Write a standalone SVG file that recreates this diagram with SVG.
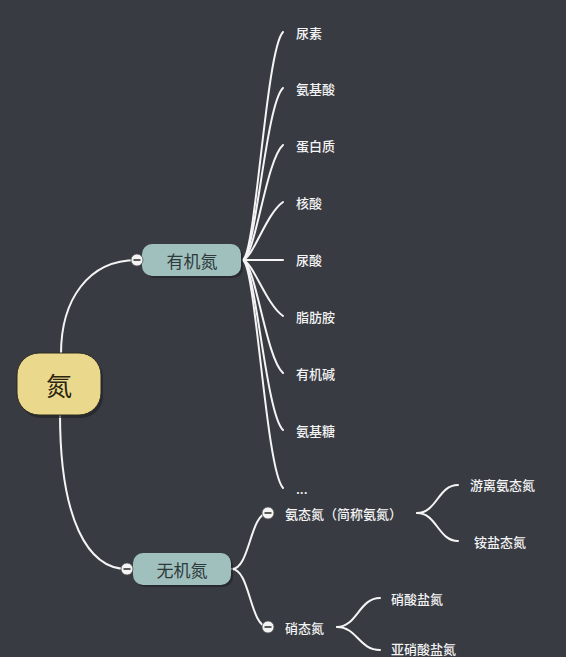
<svg xmlns="http://www.w3.org/2000/svg" width="566" height="657" viewBox="0 0 566 657">
<style>
.bg{fill:#383b42}
.ln{fill:none;stroke:#f4f4f4;stroke-width:2;stroke-linecap:round}
.lbl{font-family:"Noto Sans CJK SC","Noto Sans",sans-serif;font-size:13px;font-weight:500;fill:#f4f4f4;dominant-baseline:central}
.sub{font-family:"Noto Sans CJK SC","Noto Sans",sans-serif;font-size:17px;fill:#2e3a3a;text-anchor:middle;dominant-baseline:central}
.root{font-family:"Noto Sans CJK SC","Noto Sans",sans-serif;font-size:26px;fill:#2a2410;text-anchor:middle;dominant-baseline:central}
.subbox{fill:#a0c0be}
.shadow{fill:#1e2024;opacity:0.6}
.btn{fill:#f4f4f4;stroke:#555;stroke-width:0.8}
.minus{stroke:#333;stroke-width:1.6}
</style>
<rect class="bg" x="0" y="0" width="566" height="657"/>
<g id="connectors">
<path class="ln" d="M61,354 C61,300 88,260 137,260"/>
<path class="ln" d="M60,414 C60,520 88,569 127,569"/>
<path class="ln" d="M243,260 C256,252 266,50 283,32"/>
<path class="ln" d="M243,260 C256,252 266,104 283,88"/>
<path class="ln" d="M243,260 C256,254 266,160 283,145"/>
<path class="ln" d="M243,260 C254,256 266,214 283,202"/>
<path class="ln" d="M243,260 L283,260"/>
<path class="ln" d="M243,260 C254,264 266,304 283,316"/>
<path class="ln" d="M243,260 C256,266 266,358 283,373"/>
<path class="ln" d="M243,260 C256,268 266,414 283,430"/>
<path class="ln" d="M243,260 C256,268 266,470 283,488"/>
<path class="ln" d="M232,569 C250,569 250,513 268,513"/>
<path class="ln" d="M232,569 C250,569 250,627 268,627"/>
<path class="ln" d="M417,513 C437,513 438,485 458,485"/>
<path class="ln" d="M417,513 C437,513 438,541 458,541"/>
<path class="ln" d="M337,627 C357,627 359,598 380,598"/>
<path class="ln" d="M337,627 C357,627 359,650 380,650"/>
</g>
<g id="node-root">
<rect class="shadow" x="19" y="356" width="84" height="62" rx="22"/>
<rect x="17" y="353" width="84" height="62" rx="22" fill="#ead98c" stroke="#2a2a20" stroke-width="1"/>
<text class="root" x="59" y="384">氮</text>
</g>
<g id="node-organic">
<rect class="shadow" x="144" y="246" width="99" height="32" rx="10"/>
<rect class="subbox" x="142" y="244" width="99" height="32" rx="10"/>
<text class="sub" x="192" y="260">有机氮</text>
<circle class="btn" cx="137" cy="260" r="6"/>
<line class="minus" x1="133.5" y1="260" x2="140.5" y2="260"/>
</g>
<g id="node-inorganic">
<rect class="shadow" x="135" y="555" width="98" height="32" rx="10"/>
<rect class="subbox" x="133" y="553" width="98" height="32" rx="10"/>
<text class="sub" x="182" y="569">无机氮</text>
<circle class="btn" cx="127" cy="569" r="6"/>
<line class="minus" x1="123.5" y1="569" x2="130.5" y2="569"/>
</g>
<g id="organic-children">
<text class="lbl" x="296" y="32">尿素</text>
<text class="lbl" x="296" y="88">氨基酸</text>
<text class="lbl" x="296" y="145">蛋白质</text>
<text class="lbl" x="296" y="202">核酸</text>
<text class="lbl" x="296" y="259">尿酸</text>
<text class="lbl" x="296" y="316">脂肪胺</text>
<text class="lbl" x="296" y="373">有机碱</text>
<text class="lbl" x="296" y="430">氨基糖</text>
<text class="lbl" x="296" y="488">...</text>
</g>
<g id="node-ammonium">
<circle class="btn" cx="268" cy="513" r="6"/>
<line class="minus" x1="264.5" y1="513" x2="271.5" y2="513"/>
<text class="lbl" x="285" y="513">氨态氮（简称氨氮）</text>
</g>
<g id="node-free-ammonia"><text class="lbl" x="470" y="484">游离氨态氮</text></g>
<g id="node-ammonium-salt"><text class="lbl" x="474" y="541">铵盐态氮</text></g>
<g id="node-nitrate">
<circle class="btn" cx="268" cy="627" r="6"/>
<line class="minus" x1="264.5" y1="627" x2="271.5" y2="627"/>
<text class="lbl" x="285" y="627">硝态氮</text>
</g>
<g id="node-nitrate-salt"><text class="lbl" x="391" y="598">硝酸盐氮</text></g>
<g id="node-nitrite-salt"><text class="lbl" x="391" y="648">亚硝酸盐氮</text></g>
</svg>
